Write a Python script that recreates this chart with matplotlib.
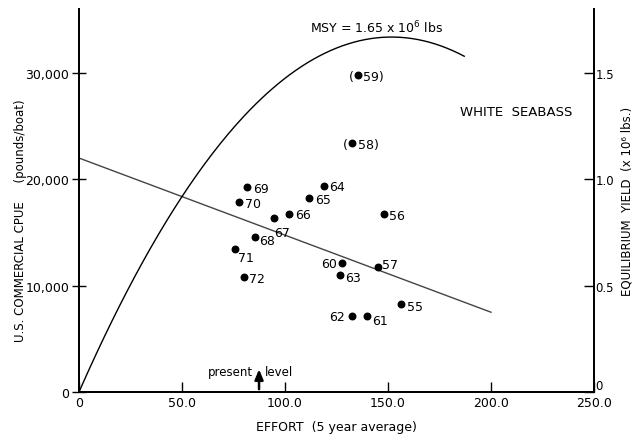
import numpy as np
import matplotlib.pyplot as plt

# CPUE observations by year (effort = 5 year average)
years = ["55", "56", "57", "58", "59", "60", "61", "62", "63", "64",
         "65", "66", "67", "68", "69", "70", "71", "72"]
effort = [156.3, 148.0, 145.0, 132.5, 135.4, 127.7, 139.8, 132.5, 126.7, 118.9,
          111.7, 102.0, 94.7, 85.4, 81.6, 77.7, 75.7, 80.0]
cpue = [8260, 16710, 11740, 23380, 29770, 12110, 7140, 7140, 10990, 19340,
        18220, 16710, 16340, 14550, 19250, 17840, 13430, 10800]

# label offsets in points (dx, dy) and alignment
label_pos = {
    "55": (4, -2, "left"), "56": (4, -1, "left"), "57": (3, 2, "left"),
    "58": (4, -1, "left"), "59": (4, -1, "left"), "60": (-4, 0, "right"),
    "61": (4, -3, "left"), "62": (-5, 0, "right"), "63": (4, -2, "left"),
    "64": (4, 0, "left"), "65": (4, -1, "left"), "66": (4, 0, "left"),
    "67": (0, -10, "left"), "68": (3, -2, "left"), "69": (4, -1, "left"),
    "70": (4, -1, "left"), "71": (2, -6, "left"), "72": (4, -1, "left"),
}

# fitted linear CPUE-effort relation
fit_intercept = 22000.0
fit_slope = -72.5
fit_end = 200.0
yield_end = 187.0
present_effort = 87.4

fs = 9

fig = plt.figure(figsize=(6.37, 4.35), dpi=100)
ax = fig.add_axes([0.124, 0.0966, 0.8085, 0.88])
ax2 = ax.twinx()

# regression line
ex = np.array([0.0, fit_end])
ax.plot(ex, fit_intercept + fit_slope * ex, color="#444444", lw=1.0)

# equilibrium yield curve (effort * predicted cpue)
ey = np.linspace(0, yield_end, 200)
ax2.plot(ey, ey * (fit_intercept + fit_slope * ey) / 1e6, color="black", lw=1.0)

ax.scatter(effort, cpue, s=22, color="black", zorder=3)
for yr, e, c in zip(years, effort, cpue):
    dx, dy, ha = label_pos[yr]
    if yr in ("58", "59"):
        ax.annotate("(", (e, c), xytext=(-3, -1), textcoords="offset points",
                    ha="right", va="center", fontsize=fs)
        txt = yr + ")"
    else:
        txt = yr
    ax.annotate(txt, (e, c), xytext=(dx, dy), textcoords="offset points",
                ha=ha, va="center", fontsize=fs)

ax.set_xlim(0, 250)
ax.set_ylim(0, 36000)
ax2.set_ylim(0, 1.8)

ax.set_xticks([0, 50, 100, 150, 200, 250])
ax.set_xticklabels(["0", "50.0", "100.0", "150.0", "200.0", "250.0"])
ax.set_yticks([0, 10000, 20000, 30000])
ax.set_yticklabels(["0", "10,000", "20,000", "30,000"])
ax2.set_yticks([0, 0.5, 1.0, 1.5])
ax2.set_yticklabels(["0", "0.5", "1.0", "1.5"])

for a in (ax, ax2):
    a.spines["top"].set_visible(False)
    for s in ("left", "right", "bottom"):
        a.spines[s].set_linewidth(1.3)
ax.tick_params(axis="x", direction="in", length=7, width=1, labelsize=fs, pad=3)
ax.tick_params(axis="y", direction="inout", length=10, width=1, labelsize=fs, pad=2)
ax2.tick_params(axis="y", direction="in", length=7, width=1, labelsize=8.5, pad=1)
ax2.get_yticklabels()[0].set_va("bottom")

ax.set_xlabel("EFFORT  (5 year average)", fontsize=fs, labelpad=8)
ax.set_ylabel("U.S. COMMERCIAL CPUE     (pounds/boat)", fontsize=8.5)
ax.yaxis.set_label_coords(-0.10, 0.45)
ax2.set_ylabel("EQUILIBRIUM  YIELD  (x 10\u2076 lbs.)", fontsize=8.5)
ax2.yaxis.set_label_coords(1.052, 0.5)

ax.text(112, 34300, r"MSY = 1.65 x 10$^6$ lbs", fontsize=fs, ha="left", va="center")
ax.text(185, 26400, "WHITE  SEABASS", fontsize=9.5, ha="left", va="center")

ax.annotate("", xy=(present_effort, 2400), xytext=(present_effort, 0),
            arrowprops=dict(arrowstyle="-|>,head_width=0.25,head_length=0.6",
                            color="black", lw=1.8))
ax.text(present_effort - 3, 1900, "present", fontsize=8.5, ha="right", va="center")
ax.text(present_effort + 3, 1900, "level", fontsize=8.5, ha="left", va="center")

fig.savefig("out.png", dpi=100)
